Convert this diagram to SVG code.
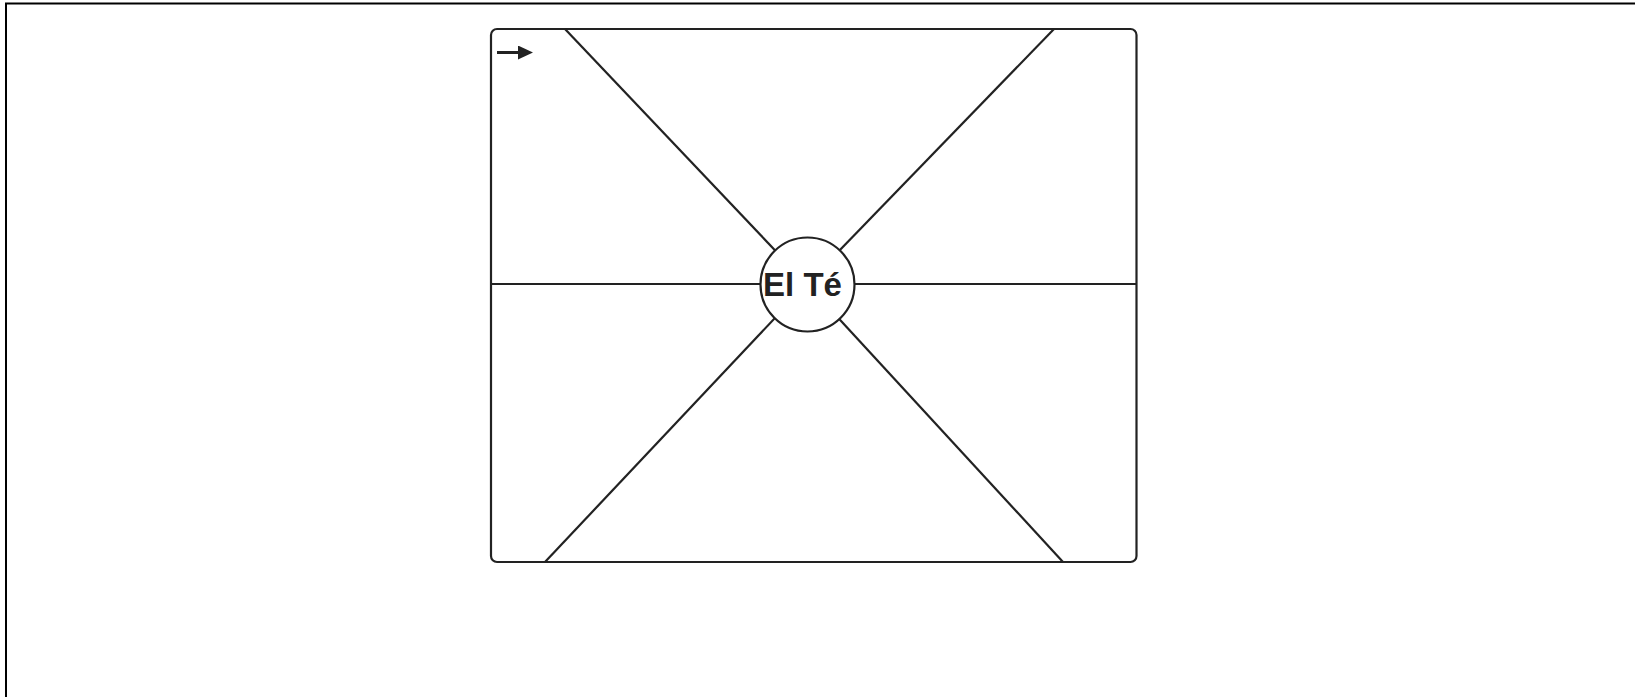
<svg xmlns="http://www.w3.org/2000/svg" width="1635" height="697" viewBox="0 0 1635 697">
<defs>
<style>
.ln{stroke:#222;stroke-width:2.2;fill:none}
.lbl{font-family:"Liberation Sans",Arial,sans-serif;font-weight:bold;font-size:33px;fill:#222}
</style>
<marker id="ah" markerWidth="15" markerHeight="14" refX="0" refY="7" orient="auto" markerUnits="userSpaceOnUse">
<path d="M0,0 L15,7 L0,14 Z" fill="#222"/>
</marker>
</defs>
<rect x="0" y="0" width="1635" height="697" fill="#fff"/>
<path d="M6,697 V3.5 H1635" stroke="#000" stroke-width="2" fill="none"/>
<g id="frame">
<rect class="ln" x="491" y="29" width="645.5" height="533" rx="6"/>
</g>
<g id="connectors">
<line class="ln" x1="491" y1="284" x2="760" y2="284"/>
<line class="ln" x1="855" y1="284" x2="1136.5" y2="284"/>
<line class="ln" x1="565" y1="29" x2="807" y2="284"/>
<line class="ln" x1="1054" y1="29" x2="807" y2="284"/>
<line class="ln" x1="545" y1="562" x2="807" y2="284"/>
<line class="ln" x1="1063" y1="562" x2="807" y2="284"/>
<line x1="497" y1="52.5" x2="518" y2="52.5" stroke="#222" stroke-width="3" marker-end="url(#ah)"/>
</g>
<g id="node-el-te">
<circle cx="807.5" cy="284.5" r="47" fill="#fff" stroke="#222" stroke-width="2.2"/>
<text class="lbl" x="802.5" y="295.5" text-anchor="middle">El Té</text>
</g>
</svg>
